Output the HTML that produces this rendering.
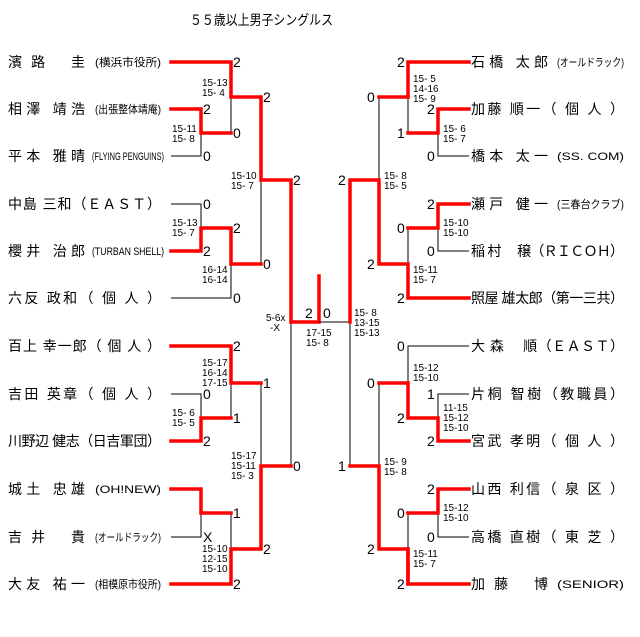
<!DOCTYPE html>
<html><head><meta charset="utf-8"><style>
html,body{margin:0;padding:0;background:#fff;}
svg{display:block;}
text{font-family:"Liberation Sans","Noto Sans CJK JP",sans-serif;fill:#000;}
.n{font-size:14px;}
.a{font-size:11px;fill:#333;}
.s{font-size:14px;}
.m{font-size:10px;}
.r{stroke:#f00;stroke-width:3.5;fill:none;stroke-linecap:square;}
.b{stroke:#000;stroke-width:1;fill:none;}
</style></head><body>
<svg width="640" height="637" xmlns="http://www.w3.org/2000/svg">
<text x="190" y="25" font-size="14" textLength="143" lengthAdjust="spacingAndGlyphs">５５歳以上男子シングルス</text>

<!-- LEFT NAMES -->
<g class="n">
<text x="8" y="67" textLength="77">濱 路　 圭</text>
<text x="8" y="114" textLength="77">相澤 靖浩</text>
<text x="8" y="161" textLength="77">平本 雅晴</text>
<text x="8" y="209" textLength="153">中島 三和（ＥＡＳＴ）</text>
<text x="8" y="256" textLength="77">櫻井 治郎</text>
<text x="8" y="303" textLength="153">六反 政和（ 個 人 ）</text>
<text x="8" y="351" textLength="153">百上 幸一郎（ 個 人 ）</text>
<text x="8" y="399" textLength="153">吉田 英章（ 個 人 ）</text>
<text x="8" y="446" textLength="153">川野辺 健志（日吉軍団）</text>
<text x="8" y="494" textLength="77">城土 忠雄</text>
<text x="8" y="542" textLength="77">吉 井　 貴</text>
<text x="8" y="589" textLength="77">大友 祐一</text>
</g>
<g class="a">
<text x="95" y="66" textLength="66" lengthAdjust="spacingAndGlyphs">(横浜市役所)</text>
<text x="95" y="113" textLength="66" lengthAdjust="spacingAndGlyphs">(出張整体靖庵)</text>
<text x="92" y="160" textLength="72" lengthAdjust="spacingAndGlyphs">(FLYING PENGUINS)</text>
<text x="92" y="255" textLength="72" lengthAdjust="spacingAndGlyphs">(TURBAN SHELL)</text>
<text x="95" y="493" textLength="66" lengthAdjust="spacingAndGlyphs">(OH!NEW)</text>
<text x="95" y="541" textLength="66" lengthAdjust="spacingAndGlyphs">(オールドラック)</text>
<text x="95" y="588" textLength="66" lengthAdjust="spacingAndGlyphs">(相模原市役所)</text>
</g>

<!-- RIGHT NAMES -->
<g class="n">
<text x="471" y="67" textLength="77">石橋 太郎</text>
<text x="471" y="114" textLength="153">加藤 順一（ 個 人 ）</text>
<text x="471" y="161" textLength="77">橋本 太一</text>
<text x="471" y="209" textLength="77">瀬戸 健一</text>
<text x="471" y="256" textLength="153">稲 村　 穣（ＲＩＣＯＨ）</text>
<text x="471" y="303" textLength="153">照屋 雄太郎（第一三共）</text>
<text x="471" y="351" textLength="153">大 森　 順（ＥＡＳＴ）</text>
<text x="471" y="399" textLength="153">片桐 智樹（教職員）</text>
<text x="471" y="446" textLength="153">宮武 孝明（ 個 人 ）</text>
<text x="471" y="494" textLength="153">山西 利信（ 泉 区 ）</text>
<text x="471" y="542" textLength="153">高橋 直樹（ 東 芝 ）</text>
<text x="471" y="589" textLength="77">加 藤　 博</text>
</g>
<g class="a">
<text x="557" y="66" textLength="67" lengthAdjust="spacingAndGlyphs">(オールドラック)</text>
<text x="557" y="160" textLength="67" lengthAdjust="spacingAndGlyphs">(SS. COM)</text>
<text x="557" y="208" textLength="67" lengthAdjust="spacingAndGlyphs">(三春台クラブ)</text>
<text x="557" y="588" textLength="67" lengthAdjust="spacingAndGlyphs">(SENIOR)</text>
</g>

<!-- LEFT LINES -->
<path class="b" d="M201 133V156H171"/>
<path class="b" d="M231 97V133"/>
<path class="b" d="M171 204H201V228"/>
<path class="b" d="M171 298H231V264"/>
<path class="b" d="M261 180V264"/>
<path class="b" d="M171 394H201V418"/>
<path class="b" d="M231 383V418"/>
<path class="b" d="M261 383V466"/>
<path class="b" d="M171 537H201V513"/>
<path class="b" d="M231 513V549"/>
<path class="b" d="M291 322V466"/>
<path class="r" d="M171 62H231V97H261V180H291V322H319V276"/>
<path class="r" d="M171 109H201V133H231"/>
<path class="r" d="M171 251H201V228H231V264H261"/>
<path class="r" d="M171 346H231V383H261"/>
<path class="r" d="M171 441H201V418H231"/>
<path class="r" d="M171 489H201V513H231"/>
<path class="r" d="M171 584H231V549H261V466H291"/>

<!-- CENTER -->
<path class="b" d="M319 322H350V466"/>

<!-- RIGHT LINES -->
<path class="b" d="M408 97V133"/>
<path class="b" d="M469 156H438V133"/>
<path class="b" d="M379 97V180"/>
<path class="b" d="M469 251H438V228"/>
<path class="b" d="M408 228V264"/>
<path class="b" d="M469 346H408V383"/>
<path class="b" d="M469 394H438V418"/>
<path class="b" d="M379 383V466"/>
<path class="b" d="M469 537H438V513"/>
<path class="b" d="M408 513V549"/>
<path class="r" d="M469 62H408V97H379"/>
<path class="r" d="M469 109H438V133H408"/>
<path class="r" d="M350 322V180H379V264H408V298H469"/>
<path class="r" d="M469 204H438V228H408"/>
<path class="r" d="M379 383H408V418H438V441H469"/>
<path class="r" d="M350 466H379V549H408V584H469"/>
<path class="r" d="M408 549V584"/>
<path class="r" d="M469 489H438V513H408"/>

<!-- LEFT SCORES -->
<g class="s">
<text x="233" y="67">2</text><text x="263" y="102">2</text>
<text x="203" y="114">2</text><text x="233" y="138">0</text>
<text x="203" y="161">0</text><text x="293" y="185">2</text>
<text x="203" y="209">0</text><text x="233" y="233">2</text>
<text x="203" y="256">2</text><text x="263" y="269">0</text>
<text x="233" y="303">0</text>
<text x="233" y="351">2</text><text x="263" y="388">1</text>
<text x="203" y="399">0</text><text x="233" y="423">1</text>
<text x="203" y="446">2</text><text x="293" y="471">0</text>
<text x="233" y="518">1</text><text x="203" y="542">X</text>
<text x="263" y="554">2</text><text x="233" y="589">2</text>
<text x="305" y="318">2</text><text x="323" y="318">0</text>
<!-- right -->
<text x="397" y="67">2</text><text x="367" y="102">0</text>
<text x="427" y="114">2</text><text x="397" y="138">1</text>
<text x="427" y="161">0</text><text x="338" y="185">2</text>
<text x="427" y="209">2</text><text x="397" y="233">0</text>
<text x="427" y="256">0</text><text x="367" y="269">2</text>
<text x="397" y="303">2</text>
<text x="397" y="351">0</text><text x="367" y="388">0</text>
<text x="427" y="399">1</text><text x="397" y="423">2</text>
<text x="427" y="446">2</text><text x="338" y="471">1</text>
<text x="427" y="494">2</text><text x="397" y="518">0</text>
<text x="427" y="542">0</text><text x="367" y="554">2</text>
<text x="397" y="589">2</text>
</g>

<!-- SET SCORES -->
<g class="m">
<text x="202" y="86">15-13</text><text x="202" y="96">15- 4</text>
<text x="172" y="132">15-11</text><text x="172" y="142">15- 8</text>
<text x="231" y="179">15-10</text><text x="231" y="189">15- 7</text>
<text x="172" y="226">15-13</text><text x="172" y="236">15- 7</text>
<text x="202" y="273">16-14</text><text x="202" y="283">16-14</text>
<text x="266" y="321">5-6x</text><text x="270" y="331">-X</text>
<text x="306" y="336">17-15</text><text x="306" y="346">15- 8</text>
<text x="354" y="316">15- 8</text><text x="354" y="326">13-15</text><text x="354" y="336">15-13</text>
<text x="202" y="366">15-17</text><text x="202" y="376">16-14</text><text x="202" y="386">17-15</text>
<text x="172" y="416">15- 6</text><text x="172" y="426">15- 5</text>
<text x="231" y="459">15-17</text><text x="231" y="469">15-11</text><text x="231" y="479">15- 3</text>
<text x="202" y="552">15-10</text><text x="202" y="562">12-15</text><text x="202" y="572">15-10</text>

<text x="413" y="82">15- 5</text><text x="413" y="92">14-16</text><text x="413" y="102">15- 9</text>
<text x="443" y="132">15- 6</text><text x="443" y="142">15- 7</text>
<text x="384" y="179">15- 8</text><text x="384" y="189">15- 5</text>
<text x="443" y="226">15-10</text><text x="443" y="236">15-10</text>
<text x="413" y="273">15-11</text><text x="413" y="283">15- 7</text>
<text x="413" y="371">15-12</text><text x="413" y="381">15-10</text>
<text x="443" y="411">11-15</text><text x="443" y="421">15-12</text><text x="443" y="431">15-10</text>
<text x="384" y="465">15- 9</text><text x="384" y="475">15- 8</text>
<text x="443" y="511">15-12</text><text x="443" y="521">15-10</text>
<text x="413" y="557">15-11</text><text x="413" y="567">15- 7</text>
</g>
</svg>
</body></html>
